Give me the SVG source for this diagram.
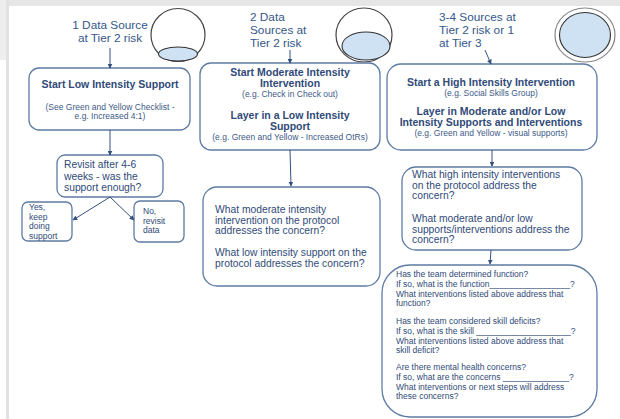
<svg xmlns="http://www.w3.org/2000/svg" width="620" height="419" viewBox="0 0 620 419">
<defs>
<marker id="ah" viewBox="0 0 8 8" refX="7" refY="4" markerWidth="5" markerHeight="5" orient="auto" markerUnits="userSpaceOnUse">
<path d="M0,0 L8,4 L0,8 z" fill="#34507e"/>
</marker>
<style>
.box{fill:#fff;stroke:#5d7ba3;stroke-width:1.3}
.t{font-family:"Liberation Sans",Arial,sans-serif;fill:#2f4a78}
.h{font-size:11.8px;fill:#35578a}
.b{font-size:10.5px;font-weight:bold;text-anchor:middle}
.s{font-size:8.5px;text-anchor:middle;fill:#3d5a88}
.q{font-size:10.3px}
.sm{font-size:8.5px}
.conn{stroke:#34507e;stroke-width:1;fill:none;marker-end:url(#ah)}
.ring{fill:#fff;stroke:#444;stroke-width:1.2}
.fill{fill:#cfe2f3;stroke:#333;stroke-width:1.1}
</style>
</defs>
<rect width="620" height="419" fill="#fff"/>
<rect x="0" y="0" width="620" height="6" fill="#e6e6e6"/>
<rect x="0" y="0" width="6" height="60" fill="#eeeeee"/>
<rect x="6" y="0" width="3" height="419" fill="#e2e2e2"/>

<g id="label1">
<text class="t h" x="110" y="29" text-anchor="middle">1 Data Source</text>
<text class="t h" x="110" y="42" text-anchor="middle">at Tier 2 risk</text>
</g>
<g id="icon1">
<ellipse class="ring" cx="178" cy="35" rx="27" ry="26.5"/>
<ellipse class="fill" cx="178" cy="54" rx="19.5" ry="7"/>
</g>
<g id="label2">
<text class="t h" x="250" y="21">2 Data</text>
<text class="t h" x="250" y="34">Sources at</text>
<text class="t h" x="250" y="47">Tier 2 risk</text>
</g>
<g id="icon2">
<ellipse class="ring" cx="364" cy="35" rx="28" ry="27"/>
<ellipse class="fill" cx="366" cy="46" rx="24" ry="14"/>
</g>
<g id="label3">
<text class="t h" x="439" y="21">3-4 Sources at</text>
<text class="t h" x="439" y="34">Tier 2 risk or 1</text>
<text class="t h" x="439" y="47">at Tier 3</text>
</g>
<g id="icon3">
<ellipse cx="585" cy="35" rx="30" ry="27" fill="#fff" stroke="#888" stroke-width="1.2"/>
<ellipse class="fill" cx="585" cy="35" rx="25.5" ry="22.5" stroke="#555"/>
</g>

<g id="box1">
<rect class="box" x="29" y="68" width="161" height="62" rx="10"/>
<text class="t b" x="110" y="88">Start Low Intensity Support</text>
<text class="t s" x="110" y="110">(See Green and Yellow Checklist -</text>
<text class="t s" x="110" y="119">e.g. Increased 4:1)</text>
</g>
<g id="box2">
<rect class="box" x="200" y="63" width="180" height="87" rx="11"/>
<text class="t b" x="290" y="76">Start Moderate Intensity</text>
<text class="t b" x="290" y="87">Intervention</text>
<text class="t s" x="290" y="97">(e.g. Check in Check out)</text>
<text class="t b" x="290" y="119">Layer in a Low Intensity</text>
<text class="t b" x="290" y="130">Support</text>
<text class="t s" x="290" y="140">(e.g. Green and Yellow - Increased OtRs)</text>
</g>
<g id="box3">
<rect class="box" x="387" y="64" width="210" height="86" rx="14"/>
<text class="t b" x="491" y="86">Start a High Intensity Intervention</text>
<text class="t s" x="491" y="96">(e.g. Social Skills Group)</text>
<text class="t b" x="491" y="115">Layer in Moderate and/or Low</text>
<text class="t b" x="491" y="126">Intensity Supports and Interventions</text>
<text class="t s" x="491" y="136">(e.g. Green and Yellow - visual supports)</text>
</g>
<g id="box4">
<rect class="box" x="57" y="155" width="106" height="42" rx="8"/>
<text class="t q" x="64" y="168">Revisit after 4-6</text>
<text class="t q" x="64" y="180">weeks - was the</text>
<text class="t q" x="64" y="191">support enough?</text>
</g>
<g id="boxYes">
<rect class="box" x="22" y="202" width="50" height="39" rx="6"/>
<text class="t sm" x="29" y="210">Yes,</text>
<text class="t sm" x="29" y="219.5">keep</text>
<text class="t sm" x="29" y="229">doing</text>
<text class="t sm" x="29" y="238.5">support</text>
</g>
<g id="boxNo">
<rect class="box" x="134" y="201" width="50" height="41" rx="6"/>
<text class="t sm" x="143" y="214">No,</text>
<text class="t sm" x="143" y="223.5">revisit</text>
<text class="t sm" x="143" y="233">data</text>
</g>
<g id="box5">
<rect class="box" x="203" y="187" width="177" height="99" rx="14"/>
<text class="t q" x="215" y="213">What moderate intensity</text>
<text class="t q" x="215" y="223.5">intervention on the protocol</text>
<text class="t q" x="215" y="234">addresses the concern?</text>
<text class="t q" x="215" y="256">What low intensity support on the</text>
<text class="t q" x="215" y="266.5">protocol addresses the concern?</text>
</g>
<g id="box6">
<rect class="box" x="402" y="167" width="180" height="83" rx="14"/>
<text class="t q" x="412" y="178">What high intensity interventions</text>
<text class="t q" x="412" y="188.5">on the protocol address the</text>
<text class="t q" x="412" y="199">concern?</text>
<text class="t q" x="412" y="222">What moderate and/or low</text>
<text class="t q" x="412" y="232.5">supports/interventions address the</text>
<text class="t q" x="412" y="243">concern?</text>
</g>
<g id="box7">
<rect class="box" x="382" y="265" width="215" height="152" rx="28"/>
<text class="t sm" x="396" y="277">Has the team determined function?</text>
<text class="t sm" x="396" y="287">If so, what is the function_________________?</text>
<text class="t sm" x="396" y="296.5">What interventions listed above address that</text>
<text class="t sm" x="396" y="306">function?</text>
<text class="t sm" x="396" y="324">Has the team considered skill deficits?</text>
<text class="t sm" x="396" y="334">If so, what is the skill ____________________?</text>
<text class="t sm" x="396" y="343.5">What interventions listed above address that</text>
<text class="t sm" x="396" y="353">skill deficit?</text>
<text class="t sm" x="396" y="370">Are there mental health concerns?</text>
<text class="t sm" x="396" y="380">If so, what are the concerns ______________?</text>
<text class="t sm" x="396" y="389.5">What interventions or next steps will address</text>
<text class="t sm" x="396" y="399">these concerns?</text>
</g>

<g id="connectors">
<path class="conn" d="M110,48 L110,68"/>
<path class="conn" d="M290,50 L290,63"/>
<path class="conn" d="M485,50 L491,64"/>
<path class="conn" d="M110,130 L110,155"/>
<path class="conn" d="M110,197 L73,220"/>
<path class="conn" d="M110,197 L134,220"/>
<path class="conn" d="M290,150 L291,186"/>
<path class="conn" d="M492,150 L492,166"/>
<path class="conn" d="M491,250 L490,264"/>
</g>
</svg>
